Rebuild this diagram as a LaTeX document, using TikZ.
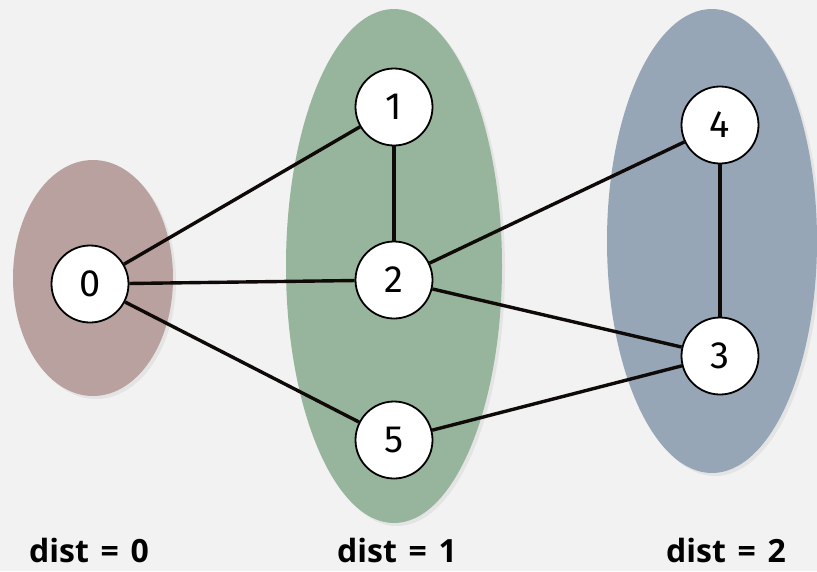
\documentclass[tikz,border=0pt]{standalone}
\usepackage{fontspec}
\setmainfont{Fira Sans}
\newfontfamily\labelfont[WordSpace=1.4]{Open Sans}
\usepackage{tikz}
\usetikzlibrary{shapes, shadows}
\definecolor{bgGray}{HTML}{F2F2F2}
\definecolor{layerRed}{HTML}{B8A19F}
\definecolor{layerGreen}{HTML}{97B59C}
\definecolor{layerBlue}{HTML}{97A6B6}
\definecolor{edgeDark}{HTML}{0F0A08}

\begin{document}
\begin{tikzpicture}[
    x=1pt, y=-1pt,
    layer/.style={ellipse, draw=none, inner sep=0pt, drop shadow={opacity=0.12, shadow xshift=3pt, shadow yshift=-3pt}},
    vertex/.style={circle, draw=black, fill=white, line width=1.8pt, minimum size=77pt, inner sep=0pt, font=\fontsize{38}{38}\selectfont},
    edge/.style={line width=3.4pt, edgeDark},
    distlabel/.style={inner sep=0pt, font=\labelfont\fontsize{32}{32}\selectfont\bfseries}
]
    \fill[bgGray] (0,0) rectangle (817,571);
    \useasboundingbox (0,0) rectangle (817,571);

    % Layers
    \node[layer, fill=layerRed, minimum width=160pt, minimum height=236pt] (layer0) at (93,278) {};
    \node[layer, fill=layerGreen, minimum width=216pt, minimum height=514pt] (layer1) at (394,266) {};
    \node[layer, fill=layerBlue, minimum width=210pt, minimum height=464pt] (layer2) at (712,241) {};

    % Nodes
    \node[vertex] (v0) at (90,284) {0};
    \node[vertex] (v1) at (394,107) {1};
    \node[vertex] (v2) at (394,280) {2};
    \node[vertex] (v5) at (394,440) {5};
    \node[vertex] (v4) at (720,125) {4};
    \node[vertex] (v3) at (720,356) {3};

    % Connections
    \draw[edge] (v0) -- (v1);
    \draw[edge] (v0) -- (v2);
    \draw[edge] (v0) -- (v5);
    \draw[edge] (v1) -- (v2);
    \draw[edge] (v2) -- (v4);
    \draw[edge] (v2) -- (v3);
    \draw[edge] (v5) -- (v3);
    \draw[edge] (v4) -- (v3);

    % Labels
    \node[distlabel, anchor=base] (d0) at (89,562) {dist = 0};
    \node[distlabel, anchor=base] (d1) at (397,562) {dist = 1};
    \node[distlabel, anchor=base] (d2) at (726,562) {dist = 2};
\end{tikzpicture}
\end{document}
